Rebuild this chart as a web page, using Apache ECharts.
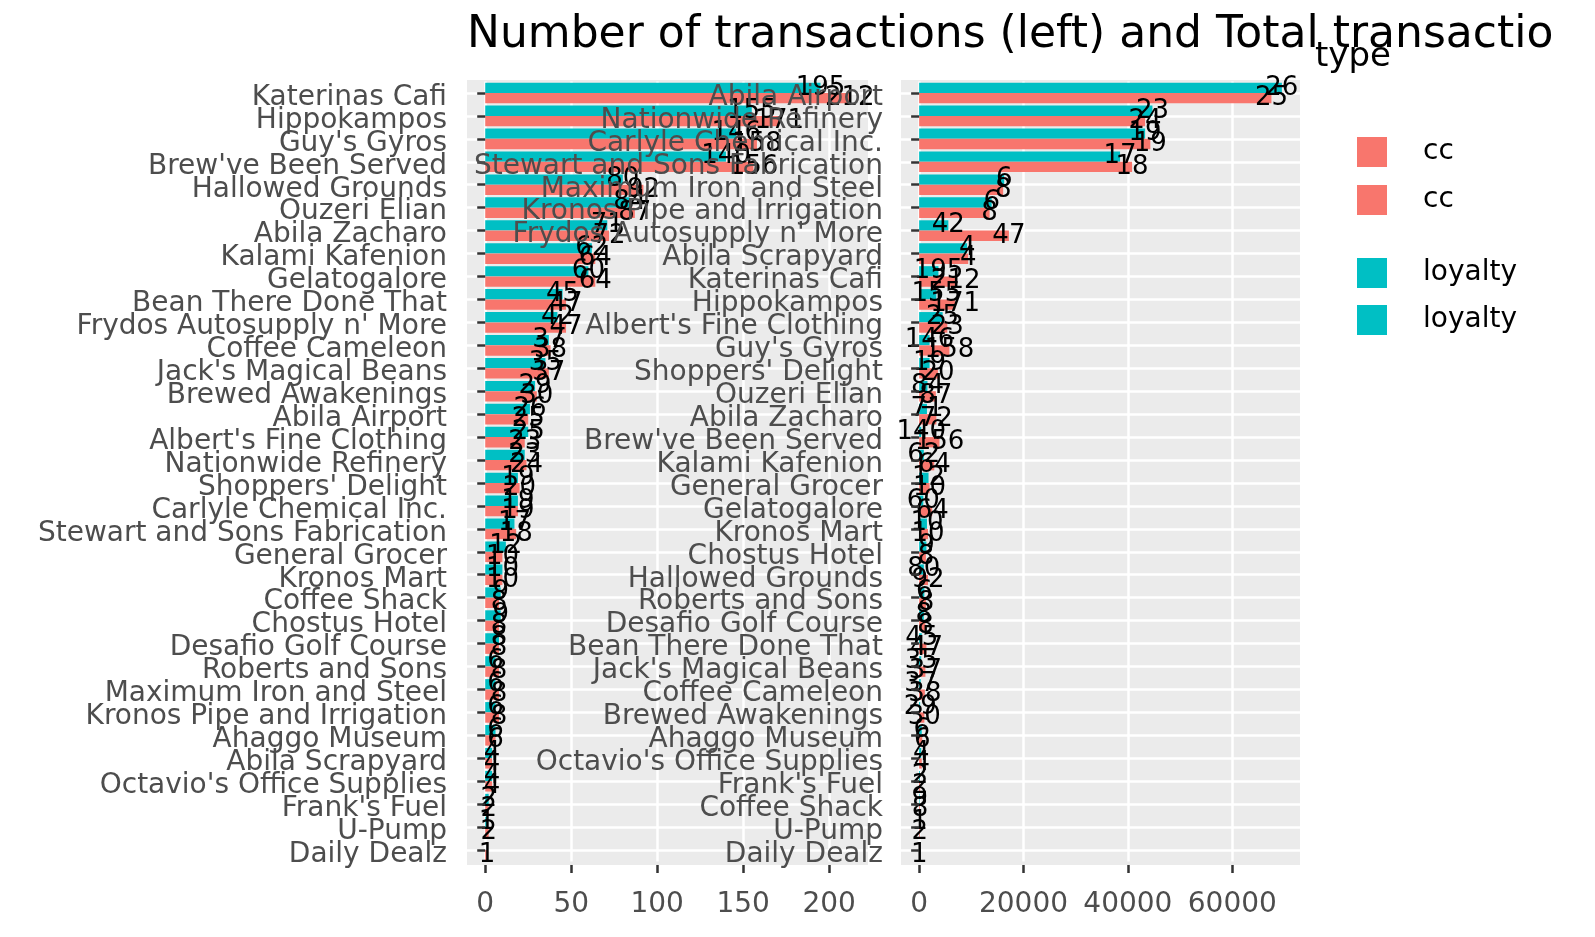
<!DOCTYPE html>
<html>
<head>
<meta charset="utf-8">
<title>Number of transactions and Total transaction amount</title>
<script src="https://cdn.jsdelivr.net/npm/echarts@6/dist/echarts.min.js"></script>
<style>
	html, body { margin: 0; padding: 0; background: #fff; }
	#chart { width: 1595px; height: 937px; }
</style>
</head>
<body>
<div id="chart"></div>
<script>
// left panel: locations in order of number of transactions
const locations = [
	'Katerinas Cafi', 'Hippokampos', "Guy's Gyros", "Brew've Been Served", 'Hallowed Grounds',
	'Ouzeri Elian', 'Abila Zacharo', 'Kalami Kafenion', 'Gelatogalore', 'Bean There Done That',
	"Frydos Autosupply n' More", 'Coffee Cameleon', "Jack's Magical Beans", 'Brewed Awakenings',
	'Abila Airport', "Albert's Fine Clothing", 'Nationwide Refinery', "Shoppers' Delight",
	'Carlyle Chemical Inc.', 'Stewart and Sons Fabrication', 'General Grocer', 'Kronos Mart',
	'Coffee Shack', 'Chostus Hotel', 'Desafio Golf Course', 'Roberts and Sons',
	'Maximum Iron and Steel', 'Kronos Pipe and Irrigation', 'Ahaggo Museum', 'Abila Scrapyard',
	"Octavio's Office Supplies", "Frank's Fuel", 'U-Pump', 'Daily Dealz'
];
const loyaltyCount = [195, 155, 146, 140, 80, 84, 71, 62, 60, 45, 42, 37, 35, 29, 26, 25, 23, 19, 19, 17,
	12, 10, 9, 9, 8, 6, 6, 6, 6, 4, 4, 2, 1, null];
const ccCount = [212, 171, 158, 156, 92, 87, 72, 64, 64, 47, 47, 38, 37, 30, 25, 23, 24, 20, 19, 18,
	10, 10, 8, 8, 8, 8, 8, 8, 6, 4, 4, 2, 2, 1];

// right panel: locations in order of total amount
const amountLocations = [
	'Abila Airport', 'Nationwide Refinery', 'Carlyle Chemical Inc.', 'Stewart and Sons Fabrication',
	'Maximum Iron and Steel', 'Kronos Pipe and Irrigation', "Frydos Autosupply n' More", 'Abila Scrapyard',
	'Katerinas Cafi', 'Hippokampos', "Albert's Fine Clothing", "Guy's Gyros", "Shoppers' Delight",
	'Ouzeri Elian', 'Abila Zacharo', "Brew've Been Served", 'Kalami Kafenion', 'General Grocer',
	'Gelatogalore', 'Kronos Mart', 'Chostus Hotel', 'Hallowed Grounds', 'Roberts and Sons',
	'Desafio Golf Course', 'Bean There Done That', "Jack's Magical Beans", 'Coffee Cameleon',
	'Brewed Awakenings', 'Ahaggo Museum', "Octavio's Office Supplies", "Frank's Fuel", 'Coffee Shack',
	'U-Pump', 'Daily Dealz'
];
const loyaltyAmount = [69500, 44700, 43300, 38500, 16300, 13900, 5600, 9200, 3700, 3300, 4500, 2000, 2000,
	1600, 1500, 400, 900, 1800, 800, 1500, 1400, 900, 1000, 900, 500, 400, 300, 200, 500, 400, 150, 100, 60, null];
const ccAmount = [67500, 43300, 44300, 40800, 16100, 13500, 17200, 9400, 7000, 6900, 5400, 5800, 3600,
	3200, 3300, 3900, 2900, 2000, 2500, 1700, 1300, 1700, 1300, 1200, 1400, 1200, 1100, 1000, 600, 500, 200, 150, 130, 40];

const countTicks = [0, 50, 100, 150, 200];
const amountTicks = [0, 20000, 40000, 60000];

const CC = '#F8766D';
const LOYALTY = '#00BFC4';
const FONT = 'DejaVu Sans';

function countFor(name, counts) {
	return counts[locations.indexOf(name)];
}

function valueAxis(grid, min, max, ticks) {
	return {
		type: 'value',
		gridIndex: grid,
		min: min,
		max: max,
		offset: 3.5,
		axisLine: { show: false },
		axisTick: { show: true, customValues: ticks, length: 8, lineStyle: { color: '#333333', width: 2.5 } },
		axisLabel: {
			customValues: ticks,
			fontSize: 28,
			color: '#4D4D4D',
			margin: 26,
			formatter: (v) => String(v),
		},
		splitLine: { show: false },
	};
}

function categoryAxis(grid, names, margin) {
	return {
		type: 'category',
		gridIndex: grid,
		data: names,
		inverse: true,
		z: 3,
		axisLine: { show: false },
		axisTick: { show: true, alignWithLabel: true, interval: 0, length: 8, lineStyle: { color: '#333333', width: 2.5 } },
		axisLabel: {
			interval: 0,
			margin: margin,
			// push the names a few px down so they sit on the tick like the original
			formatter: (v) => '{n|' + v + '}',
			rich: { n: { fontSize: 28, color: '#4D4D4D', fontFamily: FONT, padding: [9, 0, 0, 0] } },
		},
		splitLine: { show: false },
	};
}

function barSeries(name, grid, values, color, formatter) {
	return {
		type: 'bar',
		name: name,
		xAxisIndex: grid,
		yAxisIndex: grid,
		data: values,
		barGap: '0%',
		barCategoryGap: '10%',
		itemStyle: { color: color },
		label: {
			show: true,
			position: ['100%', '50%'],
			align: 'center',
			verticalAlign: 'middle',
			fontSize: 26,
			color: '#000',
			formatter: formatter,
		},
	};
}

// white grid lines drawn under the bars
function gridLines(grid, names, ticks) {
	let lines = [];
	names.forEach((n, i) => lines.push({ yAxis: i }));
	ticks.forEach((v) => lines.push({ xAxis: v }));
	return {
		type: 'line',
		xAxisIndex: grid,
		yAxisIndex: grid,
		data: [],
		markLine: {
			z: 1,
			silent: true,
			symbol: ['none', 'none'],
			label: { show: false },
			lineStyle: { color: '#ffffff', width: 2.5, type: 'solid' },
			data: lines,
		},
	};
}

function legendItem(name, top) {
	return {
		data: [name],
		left: 1357,
		top: top,
		padding: 0,
		icon: 'rect',
		itemWidth: 30,
		itemHeight: 30,
		textStyle: { fontSize: 28, color: '#000', padding: [0, 0, 0, 31] },
	};
}

var chart = echarts.init(document.getElementById('chart'));
chart.setOption({
	animation: false,
	textStyle: { fontFamily: FONT },
	title: [
		{
			text: 'Number of transactions (left) and Total transaction amount (right)',
			left: 467,
			top: 14,
			padding: 0,
			textStyle: { fontSize: 44, fontWeight: 'normal', color: '#000', width: 1100, overflow: 'truncate', ellipsis: '' },
		},
		{
			text: 'type',
			left: 1315,
			top: 40,
			padding: 0,
			textStyle: { fontSize: 34, fontWeight: 'normal', color: '#000' },
		},
	],
	legend: [legendItem('cc', 137), legendItem('cc', 185), legendItem('loyalty', 258), legendItem('loyalty', 305)],
	graphic: [
		{ type: 'rect', shape: { x: 467, y: 80, width: 401, height: 785 }, style: { fill: '#EBEBEB' }, silent: true },
		{ type: 'rect', shape: { x: 901, y: 80, width: 399, height: 785 }, style: { fill: '#EBEBEB' }, silent: true },
	],
	grid: [
		{ left: 467, top: 81.5, width: 401, height: 780 },
		{ left: 901, top: 81.5, width: 399, height: 780 },
	],
	xAxis: [valueAxis(0, -10.6, 222.6, countTicks), valueAxis(1, -3475, 72975, amountTicks)],
	yAxis: [categoryAxis(0, locations, 20), categoryAxis(1, amountLocations, 18)],
	series: [
		gridLines(0, locations, countTicks),
		gridLines(1, amountLocations, amountTicks),
		barSeries('loyalty', 0, loyaltyCount, LOYALTY),
		barSeries('cc', 0, ccCount, CC),
		barSeries('loyalty', 1, loyaltyAmount, LOYALTY, (p) => countFor(p.name, loyaltyCount)),
		barSeries('cc', 1, ccAmount, CC, (p) => countFor(p.name, ccCount)),
	],
});
</script>
</body>
</html>
